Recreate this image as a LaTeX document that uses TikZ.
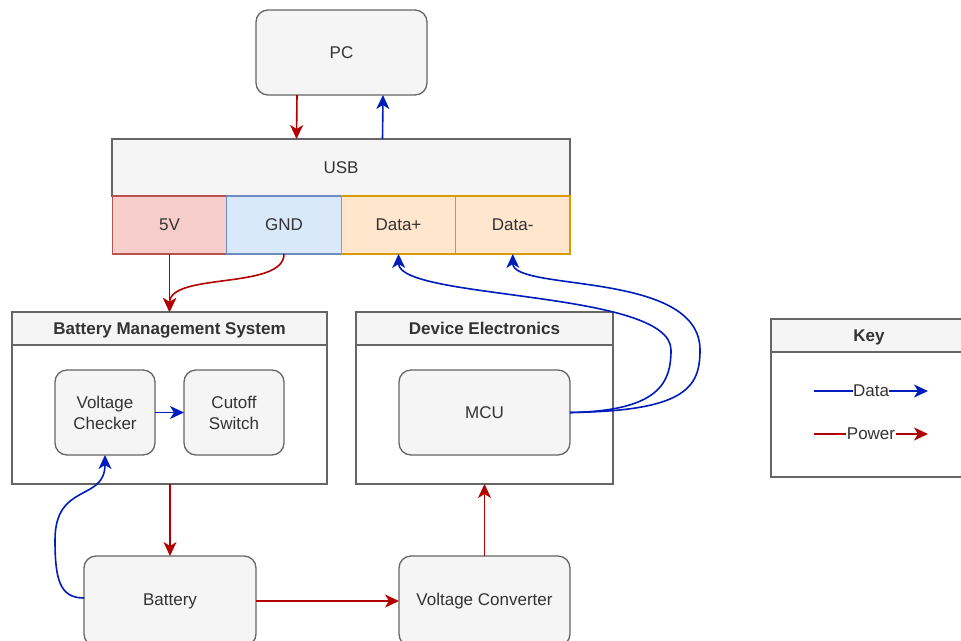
\documentclass[tikz,border=0pt]{standalone}
\usepackage{fontspec}
\setmainfont{Liberation Sans}
\usetikzlibrary{arrows.meta}
\definecolor{txtc}{HTML}{333333}
\definecolor{strk}{HTML}{666666}
\definecolor{fillg}{HTML}{F5F5F5}
\definecolor{redfill}{HTML}{F8CECC}
\definecolor{redstroke}{HTML}{B85450}
\definecolor{bluefill}{HTML}{DAE8FC}
\definecolor{bluestroke}{HTML}{6C8EBF}
\definecolor{orfill}{HTML}{FFE6CC}
\definecolor{orstroke}{HTML}{D79B00}
\definecolor{datac}{HTML}{001DBC}
\definecolor{powc}{HTML}{B20000}
\newcommand\dfont{\fontsize{17}{21}\selectfont}
\begin{document}
\begin{tikzpicture}[x=1pt,y=-1pt,
  every node/.style={inner sep=0pt, outer sep=0pt},
  box/.style={draw=strk, fill=fillg, rounded corners=12pt, line width=1.3pt, text=txtc, font=\dfont, align=center},
  plainbox/.style={draw=strk, fill=fillg, line width=1.3pt, text=txtc, font=\dfont, align=center},
  lanehead/.style={draw=strk, fill=fillg, line width=1.3pt, text=txtc, font=\dfont\bfseries, align=center, text height=12.2pt, text depth=0pt},
  lanebody/.style={draw=strk, fill=white, line width=1.3pt},
  cell/.style={line width=1.3pt, text=txtc, font=\dfont, minimum width=114.5pt, minimum height=58pt},
  tip/.style={-{Stealth[length=14pt,width=13pt,inset=4pt]}},
  datal/.style={draw=datac, line width=1.6pt, tip},
  powl/.style={draw=powc, line width=1.6pt, tip},
  keytext/.style={fill=white, text=txtc, font=\dfont, inner sep=0.5pt}
]
\clip (0,0) rectangle (961,640);
\fill[white] (0,0) rectangle (961,640);

% PC
\node[box, minimum width=171pt, minimum height=85pt] (pc) at (341.5,52.5) {PC};

% USB
\node[plainbox, minimum width=458pt, minimum height=57pt] (usb) at (341,167.5) {USB};
\node[cell, draw=redstroke, fill=redfill] (v5) at (169.5,225) {5V};
\node[cell, draw=bluestroke, fill=bluefill] (gnd) at (284,225) {GND};
\node[cell, draw=orstroke, fill=orfill] (dp) at (398.5,225) {Data+};
\node[cell, draw=orstroke, fill=orfill] (dm) at (512.75,225) {Data-};

% BMS
\node[lanebody, minimum width=315pt, minimum height=172pt] (bms) at (169.5,398) {};
\node[lanehead, minimum width=315pt, minimum height=33pt] (bmsh) at (169.5,328.5) {Battery Management System};
\node[box, minimum width=100pt, minimum height=85pt] (vc) at (105,412.5) {Voltage\\Checker};
\node[box, minimum width=100pt, minimum height=85pt] (cs) at (234,412.5) {Cutoff\\Switch};

% Device Electronics
\node[lanebody, minimum width=257pt, minimum height=172pt] (de) at (484.5,398) {};
\node[lanehead, minimum width=257pt, minimum height=33pt] (deh) at (484.5,328.5) {Device Electronics};
\node[box, minimum width=171pt, minimum height=85pt] (mcu) at (484.5,412.5) {MCU};

% Key
\node[lanebody, minimum width=196pt, minimum height=158pt] (key) at (869,398) {};
\node[lanehead, minimum width=196pt, minimum height=33pt] (keyh) at (869,335.5) {Key};
\coordinate (kd1) at (814,391);
\coordinate (kd2) at (928,391);
\coordinate (kp1) at (814,434);
\coordinate (kp2) at (928,434);
\draw[datal] (kd1) -- node[keytext] {Data} (kd2);
\draw[powl] (kp1) -- node[keytext] {Power} (kp2);

% Bottom
\node[box, minimum width=172pt, minimum height=90pt] (bat) at (170,601) {Battery};
\node[box, minimum width=171pt, minimum height=90pt] (vconv) at (484.5,601) {Voltage Converter};

% Connectors
\draw[powl] ([xshift=-44.5pt]pc.south) -- ([xshift=-44.5pt]usb.north);
\draw[datal] ([xshift=41.5pt]usb.north) -- ([xshift=41.5pt]pc.south);
\draw[powl] (v5.south) -- (bmsh.north -| v5.south);
\draw[powl] (gnd.south) .. controls (284,290) and (170,272) .. (bmsh.north -| v5.south);
\draw[datal] (vc.east) -- (cs.west);
\draw[powl] (bms.south -| bat.north) -- (bat.north);
\draw[powl] (bat.east |- vconv.west) -- (vconv.west);
\draw[powl] (vconv.north) -- (de.south -| vconv.north);
\draw[datal] (bat.west |- 0,598) .. controls (60,598) and (55,580) .. (55,540)
   .. controls (55,482) and (105,502) .. (vc.south);
\draw[datal] (mcu.east) .. controls (660,411) and (671,382) .. (671,350)
   .. controls (671,290) and (399,300) .. (dp.south);
\draw[datal] (mcu.east) .. controls (685,411) and (700,388) .. (700,350)
   .. controls (700,270) and (513,292) .. (dm.south);
\end{tikzpicture}
\end{document}
